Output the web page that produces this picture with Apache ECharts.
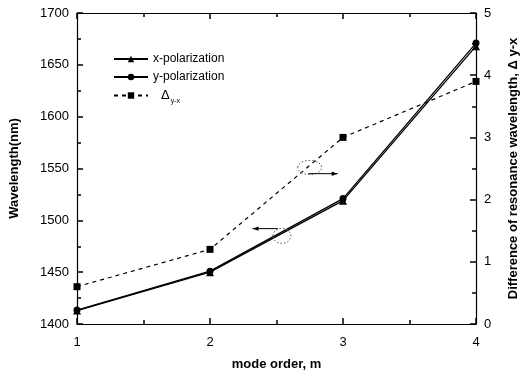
<!DOCTYPE html>
<html>
<head>
<meta charset="utf-8">
<script src="https://cdn.jsdelivr.net/npm/echarts@6/dist/echarts.min.js"></script>
<style>html,body{margin:0;padding:0;background:#fff}#c{width:528px;height:376px}</style>
</head>
<body>
<div id="c"></div>
<script>
// Data
var modeOrder = [1, 2, 3, 4];
var xPolarization = [1413, 1450, 1519, 1668];
var yPolarization = [1413.5, 1451, 1521, 1671];
var deltaYX = [0.6, 1.2, 3.0, 3.9];
var leftTicks = [1400, 1700, 50];
var rightTicks = [0, 5, 1];
// Annotation anchors in data coordinates (x, left-axis y)
var ellipseA = [2.75, 1551];
var arrowA = [[2.74, 1545], [2.96, 1545]];
var ellipseB = [2.54, 1485];
var arrowB = [[2.51, 1492], [2.32, 1492]];

var chart = echarts.init(document.getElementById('c'));
var font = 'Liberation Sans, Arial, sans-serif';
function pairs(xs, ys) { return xs.map(function (x, i) { return [x, ys[i]]; }); }
function plain(v) { return String(v); }

function axisBase(extra) {
  var base = {
    axisLine: {show: true, lineStyle: {color: '#000', width: 1.2}},
    axisTick: {show: true, inside: true, length: 6, lineStyle: {color: '#000', width: 1.5}},
    minorTick: {show: true, splitNumber: 2, length: 4, lineStyle: {color: '#000', width: 1.5}},
    splitLine: {show: false},
    axisLabel: {color: '#000', fontFamily: font, fontSize: 13, formatter: plain}
  };
  for (var k in extra) base[k] = extra[k];
  return base;
}

function renderAnnotations(params, api) {
  function arrow(a, b) {
    var A = api.coord(a), B = api.coord(b);
    var dir = B[0] > A[0] ? 1 : -1;
    return [{
      type: 'line', shape: {x1: A[0], y1: A[1], x2: B[0], y2: B[1]},
      style: {stroke: '#000', lineWidth: 1, fill: null}
    }, {
      type: 'polygon',
      shape: {points: [[B[0], B[1]], [B[0] - dir * 6, B[1] - 2.2], [B[0] - dir * 6, B[1] + 2.2]]},
      style: {fill: '#000'}
    }];
  }
  var eA = api.coord(ellipseA), eB = api.coord(ellipseB);
  var children = [{
    type: 'ellipse', shape: {cx: eA[0], cy: eA[1], rx: 12, ry: 7},
    style: {stroke: '#555', fill: null, lineWidth: 1, lineDash: [1.5, 2]}
  }, {
    type: 'ellipse', shape: {cx: eB[0], cy: eB[1], rx: 9, ry: 7.5},
    style: {stroke: '#555', fill: null, lineWidth: 1, lineDash: [1.5, 2]}
  }].concat(arrow(arrowA[0], arrowA[1])).concat(arrow(arrowB[0], arrowB[1]));
  return {type: 'group', children: children};
}

var option = {
  animation: false,
  backgroundColor: '#fff',
  grid: {left: 76, right: 51, top: 13, bottom: 50},
  legend: [{
    orient: 'vertical', left: 108, top: 48, itemWidth: 34, itemHeight: 8, itemGap: 6,
    data: ['x-polarization', 'y-polarization'],
    textStyle: {fontFamily: font, fontSize: 12, color: '#000'}
  }, {
    orient: 'vertical', left: 108, top: 84, itemWidth: 34, itemHeight: 8,
    data: ['delta'],
    formatter: function () { return '{d|Δ}{s|y-x}'; },
    textStyle: {fontFamily: font, fontSize: 12, color: '#000',
      rich: {d: {fontFamily: font, fontSize: 13, color: '#000', padding: [0, 0, 0, 8]},
             s: {fontFamily: font, fontSize: 7, color: '#000', padding: [12, 0, 0, 1]}}}
  }],
  xAxis: [axisBase({
    type: 'value', min: 1, max: 4, interval: 1, position: 'bottom',
    axisLabel: {color: '#000', fontFamily: font, fontSize: 13, margin: 12, formatter: plain},
    name: 'mode order, m', nameLocation: 'middle', nameGap: 34,
    nameTextStyle: {fontFamily: font, fontSize: 13, fontWeight: 'bold', color: '#000'}
  }), axisBase({
    type: 'value', min: 1, max: 4, interval: 1, position: 'top',
    axisLabel: {show: false}
  })],
  yAxis: [axisBase({
    type: 'value', min: leftTicks[0], max: leftTicks[1], interval: leftTicks[2], position: 'left',
    axisLabel: {color: '#000', fontFamily: font, fontSize: 13, margin: 8, formatter: plain},
    name: 'Wavelength(nm)', nameLocation: 'middle', nameGap: 56, nameRotate: 90,
    nameTextStyle: {fontFamily: font, fontSize: 13, fontWeight: 'bold', color: '#000'}
  }), axisBase({
    type: 'value', min: rightTicks[0], max: rightTicks[1], interval: rightTicks[2], position: 'right',
    axisLabel: {color: '#000', fontFamily: font, fontSize: 13, margin: 8, formatter: plain},
    name: 'Difference of resonance wavelength, Δ y-x', nameLocation: 'middle', nameGap: 31, nameRotate: 90,
    nameTextStyle: {fontFamily: font, fontSize: 13, fontWeight: 'bold', color: '#000'}
  })],
  series: [{
    name: 'x-polarization', type: 'line', xAxisIndex: 0, yAxisIndex: 0,
    data: pairs(modeOrder, xPolarization),
    symbol: 'triangle', symbolSize: 8,
    lineStyle: {color: '#000', width: 1.3}, itemStyle: {color: '#000'}
  }, {
    name: 'y-polarization', type: 'line', xAxisIndex: 0, yAxisIndex: 0,
    data: pairs(modeOrder, yPolarization),
    symbol: 'circle', symbolSize: 7,
    lineStyle: {color: '#000', width: 1.3}, itemStyle: {color: '#000'}
  }, {
    name: 'delta', type: 'line', xAxisIndex: 0, yAxisIndex: 1,
    data: pairs(modeOrder, deltaYX),
    symbol: 'rect', symbolSize: 7,
    lineStyle: {color: '#000', width: 1.2, type: [4, 4]}, itemStyle: {color: '#000'}
  }, {
    name: 'annotations', type: 'custom', coordinateSystem: 'cartesian2d',
    xAxisIndex: 0, yAxisIndex: 0, silent: true, clip: false, z: 5,
    data: [ellipseA], renderItem: renderAnnotations
  }]
};
chart.setOption(option);
</script>
</body>
</html>
